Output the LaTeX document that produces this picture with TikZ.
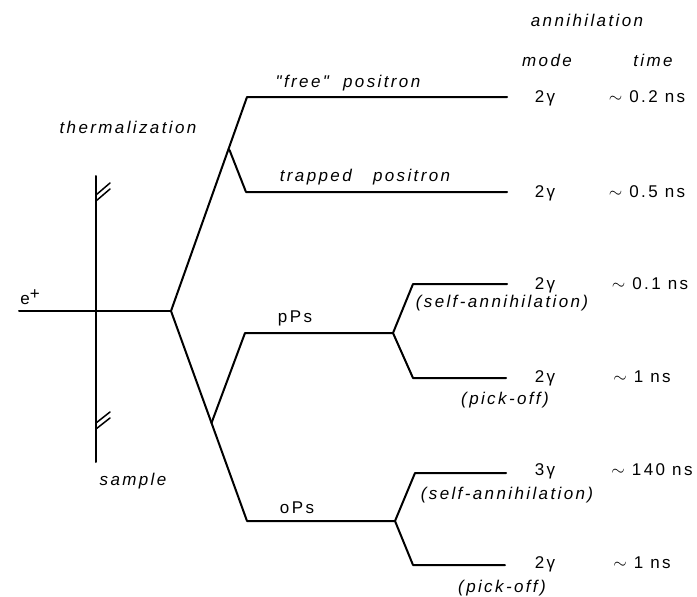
\documentclass[tikz,border=0pt]{standalone}
\usepackage{fontspec}
\setmainfont{Liberation Sans}
\newfontfamily\lab[LetterSpace=14]{Liberation Sans}
\begin{document}
\begin{tikzpicture}[x=1pt,y=-1pt,
  ln/.style={line width=2pt,line cap=round,line join=round},
  hatch/.style={line width=1.5pt,line cap=round},
  lbl/.style={font=\lab\itshape\fontsize{17}{20}\selectfont,inner sep=0pt},
  val/.style={font=\lab\fontsize{17}{20}\selectfont,inner sep=0pt}]
\useasboundingbox (0,0) rectangle (697,597);
% sample
\coordinate (st) at (96,176);
\coordinate (sb) at (96,462);
\draw[ln] (st) -- (sb);
\coordinate (h1a) at (96,195); \coordinate (h1b) at (110,183);
\coordinate (h2a) at (96,201); \coordinate (h2b) at (110,189);
\coordinate (h3a) at (96,423); \coordinate (h3b) at (110,412);
\coordinate (h4a) at (96,429); \coordinate (h4b) at (110,418);
\draw[hatch] (h1a) -- (h1b) (h2a) -- (h2b) (h3a) -- (h3b) (h4a) -- (h4b);
% e+ line
\coordinate (e0) at (19,311);
\coordinate (f0) at (171,311);
\draw[ln] (e0) -- (f0);
% upper branch
\coordinate (free0) at (247,97);
\coordinate (free1) at (507,97);
\coordinate (j1) at (229.5,150);
\coordinate (tr0) at (246,192);
\coordinate (tr1) at (507,192);
\draw[ln] (f0) -- (free0) -- (free1);
\draw[ln] (j1) -- (tr0) -- (tr1);
% lower branch
\coordinate (o0) at (247,521);
\coordinate (o1) at (395,521);
\coordinate (j2) at (211.5,423);
\coordinate (p0) at (245,333);
\coordinate (p1) at (393,333);
\draw[ln] (f0) -- (o0) -- (o1);
\draw[ln] (j2) -- (p0) -- (p1);
% pPs fork
\coordinate (pa0) at (413,284); \coordinate (pa1) at (507,284);
\coordinate (pb0) at (413,378); \coordinate (pb1) at (506,378);
\draw[ln] (p1) -- (pa0) -- (pa1);
\draw[ln] (p1) -- (pb0) -- (pb1);
% oPs fork
\coordinate (oa0) at (415,473); \coordinate (oa1) at (506,473);
\coordinate (ob0) at (413,565); \coordinate (ob1) at (505,565);
\draw[ln] (o1) -- (oa0) -- (oa1);
\draw[ln] (o1) -- (ob0) -- (ob1);
% labels
\node[val] (ep) at (30,297) {e\raisebox{5pt}{+}};
\node[lbl] (therm) at (128,127) {thermalization};
\node[lbl] (samp) at (133,481) {sample};
\node[lbl] (freel) at (348,83) {"free"\ \ positron};
\node[lbl] (trapl) at (365,177) {trapped\ \ \ positron};
\node[val] (ppsl) at (295,318) {pPs};
\node[val] (opsl) at (297,508) {oPs};
\node[lbl] (ann) at (587,20) {annihilation};
\node[lbl] (mode) at (547,60) {mode};
\node[lbl] (time) at (653,60) {time};
\node[val] (m1) at (545,98) {2γ};
\node[val] (t1) at (647,97) {$\sim$ 0.2 ns};
\node[val] (m2) at (545,193) {2γ};
\node[val] (t2) at (647,192) {$\sim$ 0.5 ns};
\node[val] (m3) at (545,285) {2γ};
\node[val] (t3) at (650,284) {$\sim$ 0.1 ns};
\node[lbl] (s3) at (502,303) {(self-annihilation)};
\node[val] (m4) at (545,378) {2γ};
\node[val] (t4) at (642,377) {$\sim$ 1 ns};
\node[lbl] (s4) at (505,400) {(pick-off)};
\node[val] (m5) at (545,471) {3γ};
\node[val] (t5) at (652,470) {$\sim$ 140 ns};
\node[lbl] (s5) at (507,495) {(self-annihilation)};
\node[val] (m6) at (545,564) {2γ};
\node[val] (t6) at (642,563) {$\sim$ 1 ns};
\node[lbl] (s6) at (502,588) {(pick-off)};
\end{tikzpicture}
\end{document}
